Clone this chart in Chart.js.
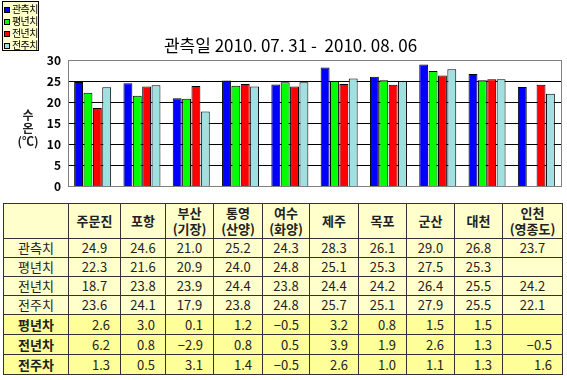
<!DOCTYPE html>
<html>
<head>
<meta charset="utf-8">
<script src="https://cdn.jsdelivr.net/npm/chart.js"></script>
<style>
  body { margin: 0; background: #fff; font-family: "Noto Sans CJK KR", "Noto Sans", sans-serif; }
  #wrap { position: relative; width: 567px; height: 380px; }
  #chart { position: absolute; left: 0; top: 0; }
  #legend { position: absolute; left: 2px; top: 1px; width: 37px; height: 50px; background: #ffffcc; border: 1px solid #000; font-size: 10px; line-height: 12px; padding-top: 1px; box-sizing: border-box; letter-spacing: -0.6px; }
  #legend div { height: 12px; white-space: nowrap; }
  #legend span.sw { display: inline-block; width: 4px; height: 4px; border: 1px solid #000; margin: 0 2px 1px 1px; vertical-align: middle; }
  #ylabel { position: absolute; left: 13px; top: 108px; width: 30px; text-align: center; font-size: 12px; line-height: 13px; font-weight: bold; color: #222; }
  table { position: absolute; left: 3px; top: 203px; border-collapse: collapse; border: 1px solid #000; font-size: 13px; color: #222; }
  td { border: 1px solid #333; padding: 0; height: 18px; text-align: center; line-height: 16px; }
  tr.head td { height: 34px; background: #ffffcc; font-weight: bold; line-height: 16px; }
  tr.obs td { background: #ffffcc; }
  tr.diff td { background: #ffff99; text-align: right; padding-right: 10px; height: 19px; }
  tr.diff td.lab { font-weight: bold; text-align: center; padding-right: 0; }
</style>
</head>
<body>
<div id="wrap">
  <canvas id="chart" width="567" height="201"></canvas>
  <div id="legend"></div>
  <div id="ylabel">수<br>온<br>(℃)</div>
  <table id="tbl"></table>
</div>
<script>
// stations (two-line names split)
const stations = [['주문진'], ['포항'], ['부산', '(기장)'], ['통영', '(산양)'], ['여수', '(화양)'],
                  ['제주'], ['목포'], ['군산'], ['대천'], ['인천', '(영종도)']];
const seriesNames = ['관측치', '평년치', '전년치', '전주치'];
const seriesColors = ['#0000ff', '#00ff00', '#ff0000', '#a0e0e0'];

const observed  = [24.9, 24.6, 21.0, 25.2, 24.3, 28.3, 26.1, 29.0, 26.8, 23.7];
const normal    = [22.3, 21.6, 20.9, 24.0, 24.8, 25.1, 25.3, 27.5, 25.3, null];
const lastYear  = [18.7, 23.8, 23.9, 24.4, 23.8, 24.4, 24.2, 26.4, 25.5, 24.2];
const lastWeek  = [23.6, 24.1, 17.9, 23.8, 24.8, 25.7, 25.1, 27.9, 25.5, 22.1];

const diffNames = ['평년차', '전년차', '전주차'];
const diffNormal   = [2.6, 3.0, 0.1, 1.2, -0.5, 3.2, 0.8, 1.5, 1.5, null];
const diffLastYear = [6.2, 0.8, -2.9, 0.8, 0.5, 3.9, 1.9, 2.6, 1.3, -0.5];
const diffLastWeek = [1.3, 0.5, 3.1, 1.4, -0.5, 2.6, 1.0, 1.1, 1.3, 1.6];

const yTicks = [0, 5, 10, 15, 20, 25, 30];
const titleText = '관측일 2010. 07. 31 -  2010. 08. 06';

const series = [observed, normal, lastYear, lastWeek];
const diffs = [diffNormal, diffLastYear, diffLastWeek];
const colWidths = [65, 52, 45, 48, 49, 47, 49, 48, 48, 48, 60];

// legend box
const legend = document.getElementById('legend');
seriesNames.forEach((name, i) => {
    const row = document.createElement('div');
    row.innerHTML = `<span class="sw" style="background:${seriesColors[i]}"></span>${name}`;
    legend.appendChild(row);
});

// table
const fmt = v => (v === null ? '' : v.toFixed(1).replace('-', '\u2212'));
const tbl = document.getElementById('tbl');
let html = '<colgroup>' + colWidths.map(w => `<col style="width:${w}px">`).join('') + '</colgroup>';
html += '<tr class="head"><td></td>' + stations.map(s => `<td>${s.join('<br>')}</td>`).join('') + '</tr>';
seriesNames.forEach((name, i) => {
    html += '<tr class="obs"><td>' + name + '</td>' + series[i].map(v => `<td>${fmt(v)}</td>`).join('') + '</tr>';
});
diffNames.forEach((name, i) => {
    html += '<tr class="diff"><td class="lab">' + name + '</td>' + diffs[i].map(v => `<td>${fmt(v)}</td>`).join('') + '</tr>';
});
tbl.innerHTML = html;
tbl.style.width = colWidths.reduce((a, b) => a + b, 0) + 'px';
tbl.style.tableLayout = 'fixed';

// gray frame round the plot
const framePlugin = {
    id: 'frame',
    afterDraw(chart) {
        const a = chart.chartArea, c = chart.ctx;
        c.save();
        c.strokeStyle = '#808080';
        c.lineWidth = 1;
        c.strokeRect(Math.round(a.left) + 0.5, Math.round(a.top) + 0.5, Math.round(a.right - a.left), Math.round(a.bottom - a.top));
        c.restore();
    }
};

const ctx = document.getElementById('chart').getContext('2d');
new Chart(ctx, {
    type: 'bar',
    data: {
        labels: stations.map(s => s.join(' ')),
        datasets: seriesNames.map((name, i) => ({
            label: name,
            data: series[i],
            backgroundColor: seriesColors[i],
            borderColor: '#000',
            borderWidth: 1,
            categoryPercentage: 0.76,
            barPercentage: 0.95
        }))
    },
    options: {
        responsive: false,
        animation: false,
        layout: { padding: { left: 20, right: 6, top: 0, bottom: 3 } },
        plugins: {
            legend: { display: false },
            tooltip: { enabled: false },
            title: {
                display: true,
                text: titleText,
                color: '#000',
                font: { family: 'Noto Sans CJK KR', size: 17, weight: 'normal' },
                padding: { top: 35, bottom: 5 }
            }
        },
        scales: {
            x: {
                ticks: { display: false },
                grid: { display: false, drawTicks: false },
                border: { color: '#808080' },
                afterFit: s => { s.height = 0; }
            },
            y: {
                min: 0,
                max: 30,
                afterBuildTicks: s => { s.ticks = yTicks.map(v => ({ value: v })); },
                ticks: {
                    color: '#000',
                    padding: 7,
                    font: { family: 'Noto Sans CJK KR', size: 12, weight: 'bold' }
                },
                grid: {
                    drawTicks: false,
                    color: c => (c.tick.value === 0 || c.tick.value === 30 ? '#808080' : '#000')
                },
                border: { color: '#808080' },
                afterFit: s => { s.width = 48; }
            }
        }
    },
    plugins: [framePlugin]
});
</script>
</body>
</html>
